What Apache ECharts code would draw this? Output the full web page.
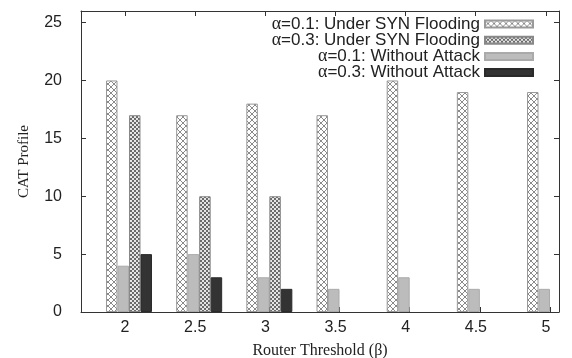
<!DOCTYPE html>
<html>
<head>
<meta charset="utf-8">
<script src="https://cdn.jsdelivr.net/npm/echarts@6/dist/echarts.min.js"></script>
<style>html,body{margin:0;padding:0;background:#fff}#c{width:572px;height:358px}</style>
</head>
<body>
<div id="c"></div>
<script>
const categories = [2, 2.5, 3, 3.5, 4, 4.5, 5];
const xTickLabels = ['2', '2.5', '3', '3.5', '4', '4.5', '5'];
const yTicks = [0, 5, 10, 15, 20, 25];
const seriesNames = ['α=0.1: Under SYN Flooding', 'α=0.1: Without Attack', 'α=0.3: Under SYN Flooding', 'α=0.3: Without Attack'];
const legendOrder = ['α=0.1: Under SYN Flooding', 'α=0.3: Under SYN Flooding', 'α=0.1: Without Attack', 'α=0.3: Without Attack'];
const synA01 = [20, 17, 18, 17, 20, 19, 19];
const noAtkA01 = [4, 5, 3, 2, 3, 2, 2];
const synA03 = [17, 10, 10, 0, 0, 0, 0];
const noAtkA03 = [5, 3, 2, 0, 0, 0, 0];

function crossPattern() {
  const c = document.createElement('canvas'); c.width = 6; c.height = 6;
  const g = c.getContext('2d');
  g.fillStyle = '#fff'; g.fillRect(0, 0, 6, 6);
  g.strokeStyle = '#8a8a8a'; g.lineWidth = 1;
  g.beginPath(); g.moveTo(0, 0); g.lineTo(6, 6); g.moveTo(6, 0); g.lineTo(0, 6); g.stroke();
  return c;
}
function checkPattern() {
  const c = document.createElement('canvas'); c.width = 4; c.height = 4;
  const g = c.getContext('2d');
  g.fillStyle = '#e6e6e6'; g.fillRect(0, 0, 4, 4);
  g.fillStyle = '#6a6a6a'; g.fillRect(0, 0, 2, 2); g.fillRect(2, 2, 2, 2);
  return c;
}
const styles = [
  {color: {image: crossPattern(), repeat: 'repeat'}, borderColor: '#999', borderWidth: 1},
  {color: '#bcbcbc', borderColor: '#aaa', borderWidth: 1},
  {color: {image: checkPattern(), repeat: 'repeat'}, borderColor: '#888', borderWidth: 1},
  {color: '#333333', borderColor: '#2a2a2a', borderWidth: 1}
];
const values = [synA01, noAtkA01, synA03, noAtkA03];

const chart = echarts.init(document.getElementById('c'), null, {renderer: 'canvas'});
const axisCol = '#333';
const numFont = 'Liberation Sans';
chart.setOption({
  backgroundColor: '#fff',
  animation: false,
  grid: {left: 81, right: 13, top: 11, bottom: 46, outerBoundsMode: 'none', containLabel: false},
  legend: {
    data: legendOrder, orient: 'vertical', right: 33, top: 10, align: 'right',
    icon: 'rect', itemWidth: 48, itemHeight: 7, itemGap: -1.8,
    textStyle: {fontFamily: numFont, fontSize: 17, color: '#222', lineHeight: 16,
      rich: {a: {fontFamily: 'Liberation Serif', fontSize: 18, color: '#222', lineHeight: 16}}},
    formatter: function (n) { return n.replace('α', '{a|α}'); }
  },
  xAxis: [{
    type: 'value', position: 'bottom', min: 1.658, max: 5.064,
    name: 'Router Threshold (β)', nameLocation: 'middle', nameGap: 31,
    nameTextStyle: {fontFamily: 'Liberation Serif', fontSize: 16, color: '#222'},
    axisLine: {show: true, onZero: false, lineStyle: {color: axisCol, width: 1}},
    axisTick: {show: true, inside: true, length: 5, customValues: categories, lineStyle: {color: axisCol}},
    axisLabel: {customValues: categories, fontFamily: numFont, fontSize: 16, color: '#222', margin: 8,
      padding: [0, 8, 0, 0],
      formatter: function (v) { const i = categories.indexOf(v); return i >= 0 ? xTickLabels[i] : ''; }},
    splitLine: {show: false}
  }, {
    type: 'value', position: 'top', min: 1.658, max: 5.064,
    axisLine: {show: true, onZero: false, lineStyle: {color: axisCol, width: 1}},
    axisTick: {show: true, inside: true, length: 5, customValues: categories.map(v => v - 0.03), lineStyle: {color: axisCol}},
    axisLabel: {show: false}, splitLine: {show: false}
  }],
  yAxis: [{
    type: 'value', min: 0, max: 26, position: 'left',
    name: 'CAT Profile', nameLocation: 'middle', nameGap: 49,
    nameTextStyle: {fontFamily: 'Liberation Serif', fontSize: 15, color: '#222'},
    axisLine: {show: true, onZero: false, lineStyle: {color: axisCol, width: 1}},
    axisTick: {show: true, inside: true, length: 5, customValues: yTicks, lineStyle: {color: axisCol}},
    axisLabel: {customValues: yTicks, fontFamily: numFont, fontSize: 16, color: '#222', margin: 19},
    splitLine: {show: false}
  }, {
    type: 'value', min: 0, max: 26, position: 'right',
    axisLine: {show: true, onZero: false, lineStyle: {color: axisCol, width: 1}},
    axisTick: {show: true, inside: true, length: 5, customValues: yTicks, lineStyle: {color: axisCol}},
    axisLabel: {show: false}, splitLine: {show: false}
  }],
  series: seriesNames.map((name, s) => ({
    name: name, type: 'bar', xAxisIndex: 0, yAxisIndex: 0,
    barWidth: 11.5, barGap: '0%',
    itemStyle: styles[s],
    data: categories.map((c, i) => [c, values[s][i] === 0 ? '-' : values[s][i]])
  }))
});
</script>
</body>
</html>
